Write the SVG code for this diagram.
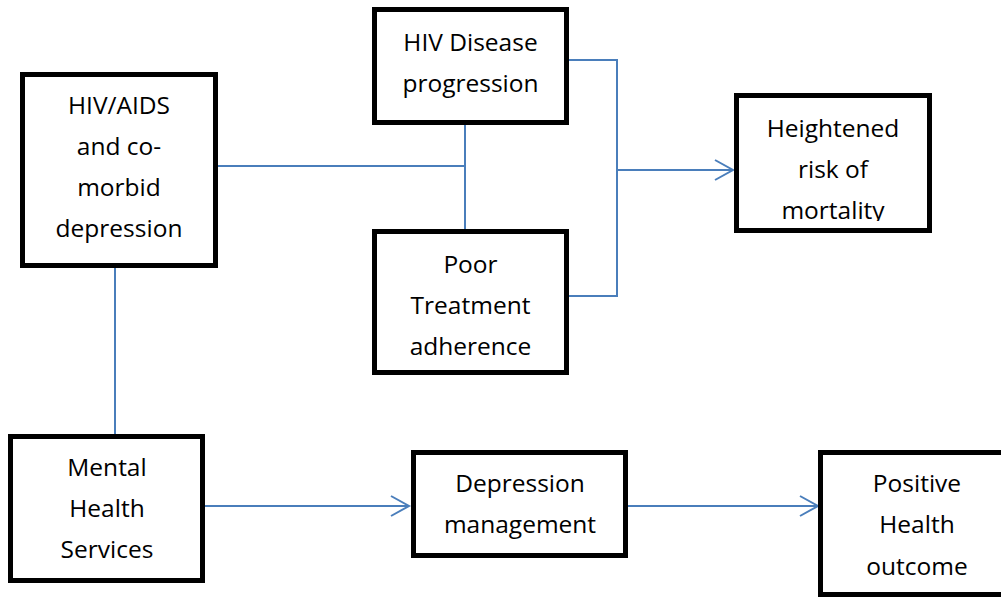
<svg xmlns="http://www.w3.org/2000/svg" width="1001" height="599" viewBox="0 0 1001 599">
<style>
.box{fill:#fff;stroke:#000;stroke-width:5}
.lbl{font-family:"Open Sans","Liberation Sans",sans-serif;font-size:24.5px;fill:#000;text-anchor:middle}
.conn{fill:none;stroke:#4a7ebb;stroke-width:2}
</style>
<defs>
<marker id="arr" markerUnits="userSpaceOnUse" markerWidth="24" markerHeight="24" viewBox="-20 -12 24 24" refX="0" refY="0" orient="auto">
<path d="M-18,-10 L0,0 L-18,10" fill="none" stroke="#4a7ebb" stroke-width="2"/>
</marker>
<clipPath id="clipH"><rect x="739" y="98" width="188" height="123"/></clipPath>
</defs>
<rect width="1001" height="599" fill="#fff"/>
<g id="connectors">
<path class="conn" d="M218,166 H465"/>
<path class="conn" d="M465,125 V229"/>
<path class="conn" d="M569,60 H617 V296 H569"/>
<path class="conn" d="M617,170 H733" marker-end="url(#arr)"/>
<path class="conn" d="M115,268 V434"/>
<path class="conn" d="M205,506 H409" marker-end="url(#arr)"/>
<path class="conn" d="M628,506 H818" marker-end="url(#arr)"/>
</g>
<g id="node-hivaids">
<rect class="box" x="22.5" y="74.5" width="193" height="191"/>
<text class="lbl" x="119" y="114">HIV/AIDS</text>
<text class="lbl" x="119" y="155">and co-</text>
<text class="lbl" x="119" y="196">morbid</text>
<text class="lbl" x="119" y="237">depression</text>
</g>
<g id="node-progression">
<rect class="box" x="374.5" y="9.5" width="192" height="113"/>
<text class="lbl" x="470.5" y="51">HIV Disease</text>
<text class="lbl" x="470.5" y="92">progression</text>
</g>
<g id="node-adherence">
<rect class="box" x="374.5" y="231.5" width="192" height="141"/>
<text class="lbl" x="470.5" y="273">Poor</text>
<text class="lbl" x="470.5" y="314">Treatment</text>
<text class="lbl" x="470.5" y="355">adherence</text>
</g>
<g id="node-mortality">
<rect class="box" x="736.5" y="95.5" width="193" height="135"/>
<g clip-path="url(#clipH)">
<text class="lbl" x="833" y="137">Heightened</text>
<text class="lbl" x="833" y="178">risk of</text>
<text class="lbl" x="833" y="219">mortality</text>
</g>
</g>
<g id="node-mental">
<rect class="box" x="10.5" y="436.5" width="192" height="144"/>
<text class="lbl" x="107" y="476">Mental</text>
<text class="lbl" x="107" y="517">Health</text>
<text class="lbl" x="107" y="558">Services</text>
</g>
<g id="node-depression">
<rect class="box" x="413.5" y="452.5" width="212" height="103"/>
<text class="lbl" x="520" y="492">Depression</text>
<text class="lbl" x="520" y="533">management</text>
</g>
<g id="node-positive">
<rect class="box" x="820.5" y="452.5" width="200" height="142"/>
<text class="lbl" x="917" y="492">Positive</text>
<text class="lbl" x="917" y="533">Health</text>
<text class="lbl" x="917" y="575">outcome</text>
</g>
</svg>
